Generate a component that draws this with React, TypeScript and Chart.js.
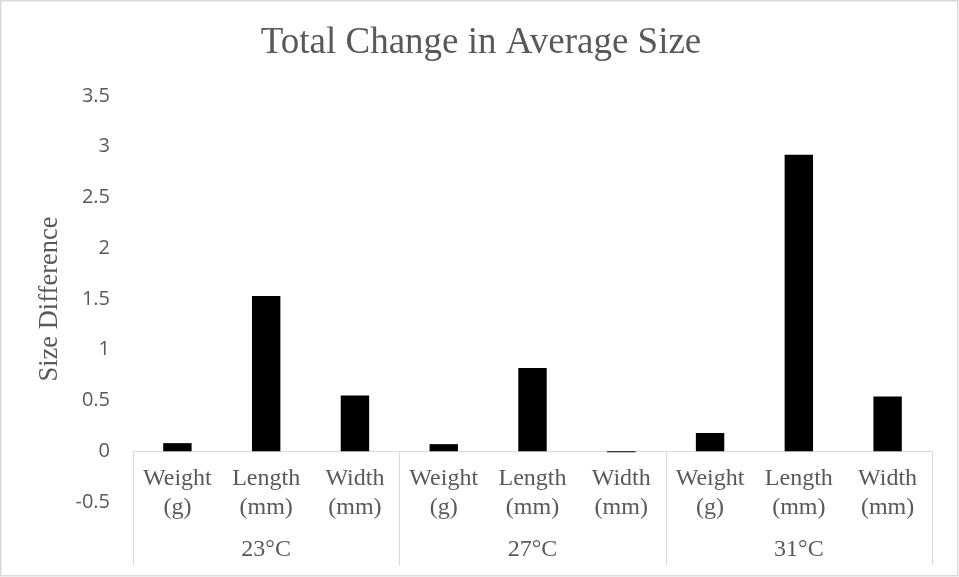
import React, { useEffect, useRef } from "react";
import { Chart, registerables } from "chart.js";

Chart.register(...registerables);

const groups = ["23°C", "27°C", "31°C"];
const measures = [["Weight", "(g)"], ["Length", "(mm)"], ["Width", "(mm)"]];
const values23 = [0.08, 1.53, 0.55];
const values27 = [0.07, 0.82, -0.01];
const values31 = [0.18, 2.92, 0.54];
const yTicks = [-0.5, 0, 0.5, 1, 1.5, 2, 2.5, 3, 3.5];

const GREY = "#595959";
const LINE = "#d9d9d9";
const SERIF = "'Liberation Serif', 'Times New Roman', serif";
const SANS = "'Open Sans', 'Liberation Sans', sans-serif";

export default function App() {
  const ref = useRef<HTMLCanvasElement | null>(null);

  useEffect(() => {
    document.body.style.margin = "0";
    const canvas = ref.current;
    if (!canvas) return;

    const labels: string[][] = [];
    groups.forEach(() => measures.forEach((m) => labels.push(m)));
    const data = [...values23, ...values27, ...values31];

    const groupPlugin = {
      id: "groupPlugin",
      afterDraw(chart: any) {
        const { ctx, scales } = chart;
        const x = scales.x;
        const y = scales.y;
        const y0 = y.getPixelForValue(0);
        ctx.save();
        ctx.strokeStyle = LINE;
        ctx.lineWidth = 1;
        for (let g = 0; g <= groups.length; g++) {
          const px = Math.round(x.getPixelForValue(g * measures.length - 0.5)) + 0.5;
          ctx.beginPath();
          ctx.moveTo(px, y0);
          ctx.lineTo(px, 565);
          ctx.stroke();
        }
        ctx.fillStyle = GREY;
        ctx.font = `24px ${SERIF}`;
        ctx.textAlign = "center";
        ctx.textBaseline = "middle";
        groups.forEach((gname, g) => {
          const cx = x.getPixelForValue(g * measures.length + (measures.length - 1) / 2);
          ctx.fillText(gname, cx, 550);
        });
        ctx.strokeStyle = LINE;
        ctx.lineWidth = 1.5;
        ctx.strokeRect(0.75, 0.75, chart.width - 2, chart.height - 2);
        ctx.restore();
      },
    };

    const chart = new Chart(canvas, {
      type: "bar",
      data: {
        labels,
        datasets: [
          {
            label: "Size Difference",
            data,
            backgroundColor: "#000000",
            borderWidth: 0,
            barPercentage: 0.32,
            categoryPercentage: 1,
          },
        ],
      },
      options: {
        responsive: false,
        animation: false,
        devicePixelRatio: 1,
        layout: { padding: { left: 30, right: 27, top: 0, bottom: 75 } },
        plugins: {
          legend: { display: false },
          tooltip: { enabled: false },
          title: {
            display: true,
            text: "Total Change in Average Size",
            color: GREY,
            font: { family: SERIF, size: 37, weight: "normal" },
            padding: { top: 21.5, bottom: 30.1 },
          },
        },
        scales: {
          x: {
            type: "category",
            position: { y: 0 } as any,
            grid: { display: false, drawTicks: false },
            border: { display: true, color: LINE, width: 1 },
            ticks: {
              autoSkip: false,
              maxRotation: 0,
              minRotation: 0,
              padding: 13,
              color: GREY,
              font: { family: SERIF, size: 24, lineHeight: 1.22 },
            },
          },
          y: {
            type: "linear",
            position: "left",
            min: yTicks[0],
            max: yTicks[yTicks.length - 1],
            afterBuildTicks: (scale: any) => {
              scale.ticks = yTicks.map((v) => ({ value: v }));
            },
            afterFit: (scale: any) => {
              scale.width = 103;
            },
            grid: { display: false, drawTicks: false },
            border: { display: false },
            ticks: {
              padding: 23,
              color: GREY,
              font: { family: SANS, size: 20 },
              callback: (v: any) => String(v),
            },
            title: {
              display: true,
              text: "Size Difference",
              color: GREY,
              font: { family: SERIF, size: 26.5, weight: "normal" },
              padding: { top: 4.5, bottom: 0 },
            },
          },
        },
      },
      plugins: [groupPlugin],
    });

    return () => chart.destroy();
  }, []);

  return (
    <div style={{ width: 959, height: 577 }}>
      <canvas ref={ref} width={959} height={577} style={{ display: "block" }} />
    </div>
  );
}
